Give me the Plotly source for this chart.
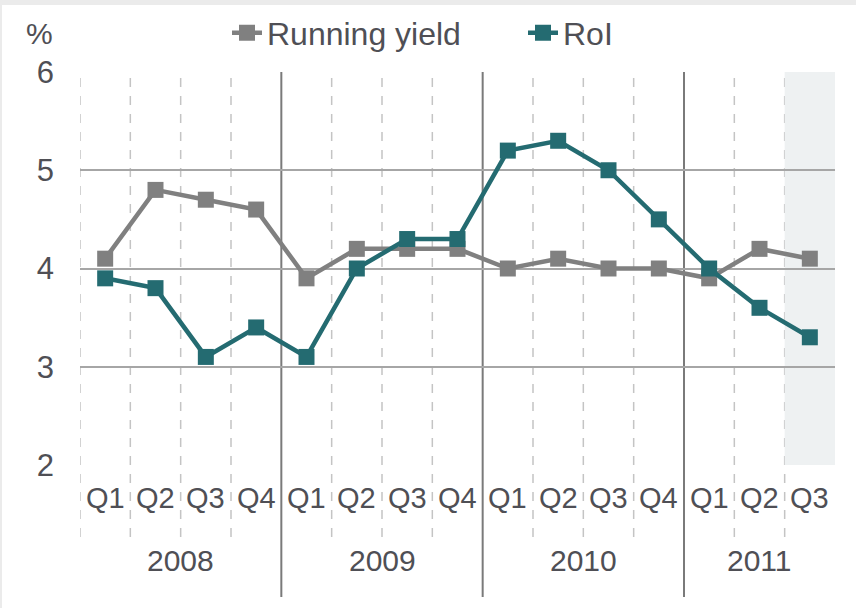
import plotly.graph_objects as go

quarters = ["Q1","Q2","Q3","Q4","Q1","Q2","Q3","Q4","Q1","Q2","Q3","Q4","Q1","Q2","Q3"]
years = ["2008","2009","2010","2011"]
year_counts = [4, 4, 4, 3]
running_yield = [4.1, 4.8, 4.7, 4.6, 3.9, 4.2, 4.2, 4.2, 4.0, 4.1, 4.0, 4.0, 3.9, 4.2, 4.1]
roi = [3.9, 3.8, 3.1, 3.4, 3.1, 4.0, 4.3, 4.3, 5.2, 5.3, 5.0, 4.5, 4.0, 3.6, 3.3]
y_ticks = [2, 3, 4, 5, 6]

W, H = 856, 608
ml, mr, mt, mb = 80, 21, 72, 143
ph = H - mt - mb
pw = W - ml - mr

x = list(range(len(quarters)))
GRAY = "#808080"
TEAL = "#246b71"
TXT = "#4f4f55"
FONT = "Liberation Sans, Arial, sans-serif"

fig = go.Figure()
fig.add_trace(go.Scatter(x=x, y=running_yield, name="Running yield", mode="lines+markers",
                         line=dict(color=GRAY, width=4.5),
                         marker=dict(symbol="square", size=16, color=GRAY)))
fig.add_trace(go.Scatter(x=x, y=roi, name="RoI", mode="lines+markers",
                         line=dict(color=TEAL, width=4.5),
                         marker=dict(symbol="square", size=16, color=TEAL)))

def py(px_below):
    return -px_below / ph

shapes = []
shapes.append(dict(type="rect", xref="x", yref="y", x0=13.5, x1=14.5, y0=2, y1=6,
                   fillcolor="#eef1f2", line=dict(width=0), layer="below"))
shapes.append(dict(type="rect", xref="paper", yref="paper", x0=-ml/pw, x1=1+mr/pw,
                   y0=1+(mt-5)/ph, y1=1+mt/ph, fillcolor="#ebebeb", line=dict(width=0)))
shapes.append(dict(type="rect", xref="paper", yref="paper", x0=-ml/pw, x1=-(ml-2)/pw,
                   y0=-mb/ph, y1=1+mt/ph, fillcolor="#ebebeb", line=dict(width=0)))
bounds = []
c = 0
for n in year_counts[:-1]:
    c += n
    bounds.append(c - 0.5)
for i in range(len(quarters)):
    b = i - 0.5
    if b in bounds:
        continue
    shapes.append(dict(type="line", xref="x", yref="paper", x0=b, x1=b, y0=py(72), y1=1,
                       line=dict(color="#c4c4c4", width=1.5, dash="dash"), layer="below"))
for b in bounds:
    shapes.append(dict(type="line", xref="x", yref="paper", x0=b, x1=b, y0=py(132), y1=1,
                       line=dict(color="#7a7a7a", width=2), layer="below"))

annotations = []
for i, q in enumerate(quarters):
    annotations.append(dict(x=i, y=py(33), xref="x", yref="paper", text=q, showarrow=False,
                            font=dict(size=29, color=TXT, family=FONT), yanchor="middle"))
c = 0
for yname, n in zip(years, year_counts):
    center = c + (n - 1) / 2
    annotations.append(dict(x=center, y=py(95), xref="x", yref="paper", text=yname, showarrow=False,
                            font=dict(size=30, color=TXT, family=FONT), yanchor="middle"))
    c += n
annotations.append(dict(x=(39 - ml)/pw, y=1 + (mt-34)/ph, xref="paper", yref="paper",
                        text="%", showarrow=False, font=dict(size=30, color=TXT, family=FONT),
                        xanchor="center", yanchor="middle"))

fig.update_layout(
    width=W, height=H,
    margin=dict(l=ml, r=mr, t=mt, b=mb, autoexpand=False),
    paper_bgcolor="white", plot_bgcolor="white",
    font=dict(family=FONT, color=TXT, size=30),
    showlegend=True,
    legend=dict(orientation="h", x=(227-ml)/pw, xanchor="left", y=1 + (mt-33)/ph, yanchor="middle",
                font=dict(size=32, color=TXT, family=FONT), bgcolor="rgba(0,0,0,0)",
                entrywidth=251, entrywidthmode="pixels"),
    xaxis=dict(range=[-0.5, len(quarters)-0.5], showticklabels=False, showgrid=False, zeroline=False,
               fixedrange=True, automargin=False),
    yaxis=dict(range=[2, 6], tickvals=y_ticks, showgrid=True, gridcolor="#a6a6a6", gridwidth=2,
               zeroline=False, tickfont=dict(size=31, color=TXT, family=FONT), ticks="",
               ticklabelstandoff=25, automargin=False, fixedrange=True),
    shapes=shapes, annotations=annotations,
)
fig.write_html("out.html", config={"displayModeBar": False},
               post_script="document.body.style.margin='0px';")
